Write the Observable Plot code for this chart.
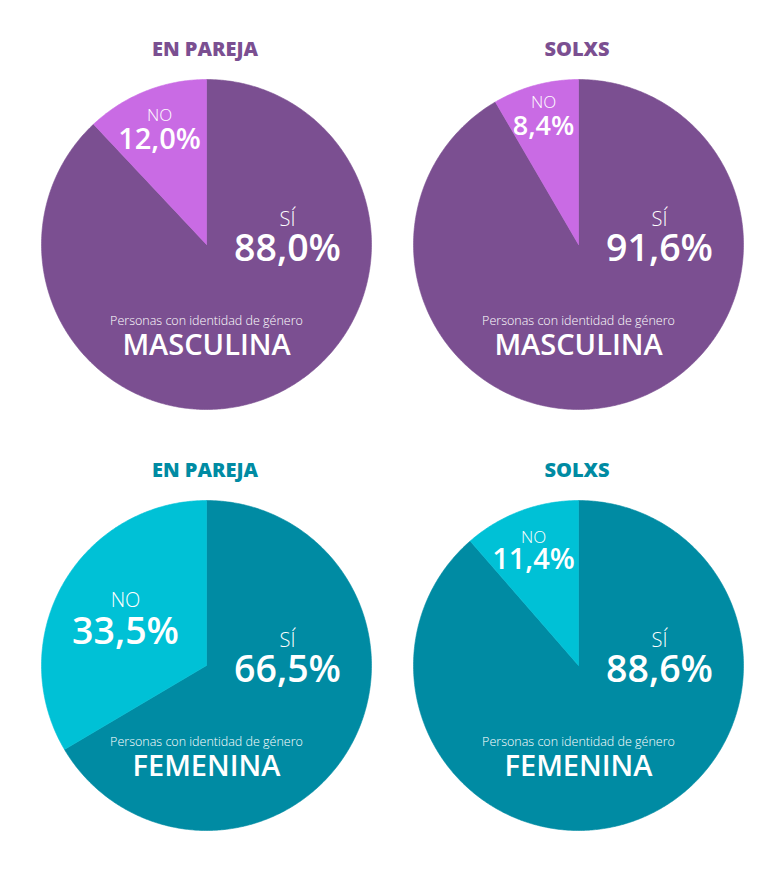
<!DOCTYPE html>
<html>
<head>
<meta charset="utf-8">
<script src="https://cdn.jsdelivr.net/npm/d3@7"></script>
<script src="https://cdn.jsdelivr.net/npm/@observablehq/plot@0.6"></script>
<style>
  html, body { margin: 0; padding: 0; background: #ffffff; }
  #wrap { position: relative; width: 780px; height: 875px; font-family: "Open Sans", sans-serif; }
  .cell { position: absolute; }
  .cell svg { overflow: visible; }
</style>
</head>
<body>
<div id="wrap"></div>
<script>
// ---- data ----
const situations = ["EN PAREJA", "SOLXS", "EN PAREJA", "SOLXS"];
const genders = ["MASCULINA", "MASCULINA", "FEMENINA", "FEMENINA"];
const categories = ["SÍ", "NO"];
const siValues = [88.0, 91.6, 66.5, 88.6];
const noValues = [12.0, 8.4, 33.5, 11.4];
const subtitleText = "Personas con identidad de género";

// ---- layout / style (not data) ----
const R = 165;
const palettes = {
  MASCULINA: { dark: "#7b4f91", light: "#c96be4" },
  FEMENINA: { dark: "#008ba3", light: "#00c1d6" }
};
const centers = [[205.5, 244], [577.5, 244], [205.5, 665], [577.5, 665]];
// NO-label placement in pixels relative to pie centre, and font sizes
const noLabelLayout = [
  { dx: -47, dyTop: -124, dyVal: -96, fsTop: 17, fsVal: 29 },
  { dx: -35, dyTop: -137, dyVal: -110, fsTop: 17, fsVal: 27 },
  { dx: -81, dyTop: -59, dyVal: -22, fsTop: 20, fsVal: 37.5 },
  { dx: -45, dyTop: -123, dyVal: -97, fsTop: 17, fsVal: 29 }
];
const W = 372, H = 400, TOP = 215; // svg spans centre-215 .. centre+185

const fmt = v => d3.format(".1f")(v).replace(".", ",") + "%";
const font = "Open Sans";

const wrap = document.getElementById("wrap");

situations.forEach((situation, i) => {
  const gender = genders[i];
  const pal = palettes[gender];
  const values = [siValues[i], noValues[i]];
  const arcs = d3.pie().sort(null)(values);
  const rows = [];
  arcs.forEach((a, k) => {
    const cat = categories[k];
    rows.push({ cat, x: 0, y: 0 });
    const n = Math.max(2, Math.ceil((a.endAngle - a.startAngle) / 0.01));
    for (let j = 0; j <= n; j++) {
      const t = a.startAngle + (a.endAngle - a.startAngle) * j / n;
      rows.push({ cat, x: Math.sin(t), y: Math.cos(t) });
    }
    rows.push({ cat, x: 0, y: 0 });
  });

  const L = noLabelLayout[i];
  const px = v => v / R;       // pixel offset -> chart units (x)
  const py = v => -v / R;      // pixel offset (down) -> chart units (y up)
  const one = [0];

  const chart = Plot.plot({
    width: W,
    height: H,
    margin: 0,
    x: { domain: [-(W / 2) / R, (W / 2) / R], axis: null },
    y: { domain: [-(H - TOP) / R, TOP / R], axis: null },
    color: { domain: categories, range: [pal.dark, pal.light] },
    style: { fontFamily: font, background: "transparent" },
    marks: [
      Plot.line(rows, { x: "x", y: "y", z: "cat", fill: "cat", stroke: "cat", strokeWidth: 0.6, curve: "linear" }),
      // title
      Plot.text(one, { x: () => px(-1.5), y: () => py(-189), text: () => situation, fill: pal.dark,
        fontSize: 20, fontWeight: 800, lineAnchor: "bottom", textAnchor: "middle" }),
      // SÍ label
      Plot.text(one, { x: () => px(81), y: () => py(-19), text: () => categories[0], fill: "white",
        fontSize: 20, fontWeight: 300, lineAnchor: "bottom", textAnchor: "middle" }),
      Plot.text(one, { x: () => px(81), y: () => py(16), text: () => fmt(siValues[i]), fill: "white",
        fontSize: 37.5, fontWeight: 600, lineAnchor: "bottom", textAnchor: "middle" }),
      // NO label
      Plot.text(one, { x: () => px(L.dx), y: () => py(L.dyTop), text: () => categories[1], fill: "white",
        fontSize: L.fsTop, fontWeight: 300, lineAnchor: "bottom", textAnchor: "middle" }),
      Plot.text(one, { x: () => px(L.dx), y: () => py(L.dyVal), text: () => fmt(noValues[i]), fill: "white",
        fontSize: L.fsVal, fontWeight: 600, lineAnchor: "bottom", textAnchor: "middle" }),
      // group labels
      Plot.text(one, { x: () => 0, y: () => py(80), text: () => subtitleText, fill: "white",
        fontSize: 12.5, fontWeight: 300, lineAnchor: "bottom", textAnchor: "middle" }),
      Plot.text(one, { x: () => 0, y: () => py(110), text: () => gender, fill: "white",
        fontSize: 29, fontWeight: 600, lineAnchor: "bottom", textAnchor: "middle" })
    ]
  });

  const cell = document.createElement("div");
  cell.className = "cell";
  cell.style.left = (centers[i][0] - W / 2) + "px";
  cell.style.top = (centers[i][1] - TOP) + "px";
  cell.appendChild(chart);
  wrap.appendChild(cell);
});
</script>
</body>
</html>
